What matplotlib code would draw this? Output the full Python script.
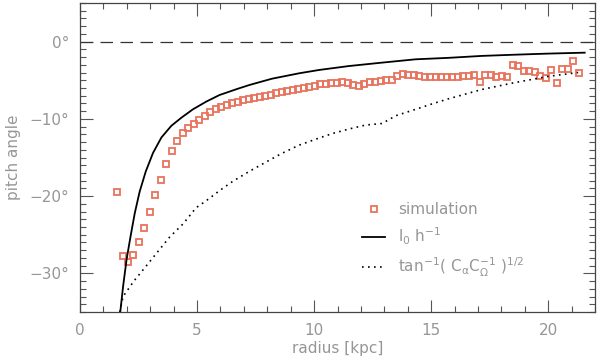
import numpy as np
import matplotlib
matplotlib.use('Agg')
from matplotlib import pyplot as plt
from matplotlib.ticker import MultipleLocator, FixedLocator

# simulation pitch angles
sim_r = [1.57, 1.82, 2.06, 2.28, 2.52, 2.75, 2.99, 3.22, 3.46, 3.69, 3.93, 4.16,
         4.38, 4.62, 4.86, 5.10, 5.33, 5.57, 5.80, 6.04, 6.27, 6.51, 6.74, 6.98,
         7.21, 7.45, 7.68, 7.92, 8.15, 8.39, 8.62, 8.86, 9.09, 9.33, 9.56, 9.80,
         10.03, 10.27, 10.50, 10.74, 10.97, 11.21, 11.44, 11.68, 11.91, 12.15,
         12.38, 12.62, 12.85, 13.09, 13.32, 13.56, 13.79, 14.03, 14.26, 14.50,
         14.73, 14.97, 15.20, 15.44, 15.67, 15.91, 16.14, 16.38, 16.61, 16.85,
         17.08, 17.32, 17.55, 17.79, 18.02, 18.26, 18.49, 18.73, 18.96, 19.20,
         19.43, 19.67, 19.90, 20.14, 20.37, 20.61, 20.84, 21.08, 21.31]
sim_p = [-19.5, -27.7, -28.5, -27.6, -26.0, -24.1, -22.0, -19.9, -17.9, -15.9, -14.1, -12.8,
         -11.8, -11.2, -10.6, -10.1, -9.6, -9.1, -8.75, -8.5, -8.25, -8.0, -7.8, -7.62,
         -7.45, -7.3, -7.15, -7.0, -6.85, -6.7, -6.55, -6.42, -6.3, -6.15, -6.02, -5.85,
         -5.72, -5.55, -5.45, -5.36, -5.32, -5.27, -5.40, -5.58, -5.70, -5.53,
         -5.19, -5.19, -5.14, -4.97, -4.93, -4.41, -4.24, -4.32, -4.37, -4.45,
         -4.58, -4.63, -4.63, -4.58, -4.58, -4.55, -4.53, -4.49, -4.41, -4.28,
         -5.18, -4.32, -4.32, -4.58, -4.49, -4.62, -2.98, -3.20, -3.85, -3.85,
         -3.98, -4.41, -4.75, -3.72, -5.36, -3.59, -3.59, -2.46, -4.07]

# l0/h curve
lh_r = [1.72, 1.84, 1.99, 2.16, 2.34, 2.55, 2.81, 3.12, 3.48, 3.90, 4.33, 4.82,
        5.39, 5.96, 6.74, 7.23, 8.2, 9.36, 10.21, 11.49, 12.8, 14.33, 15.74,
        17.16, 18.5, 20.0, 21.56]
lh_p = [-35.0, -31.7, -28.2, -25.2, -22.2, -19.4, -16.8, -14.4, -12.4, -10.9, -9.85, -8.77,
        -7.77, -6.91, -6.1, -5.62, -4.8, -4.1, -3.67, -3.16, -2.75, -2.29, -2.1,
        -1.85, -1.7, -1.55, -1.43]

# tan^-1 (C_alpha / C_Omega)^1/2 curve
ca_r = [1.70, 1.84, 2.3, 2.84, 3.40, 3.83, 4.40, 4.96, 5.39, 6.0, 6.52, 7.23,
        7.94, 8.6, 9.36, 10.1, 10.78, 11.5, 12.2, 12.9, 13.2, 13.48, 14.3,
        15.0, 15.74, 16.17, 17.16, 18.58, 20.0, 21.28]
ca_p = [-35.0, -33.0, -31.0, -29.0, -26.9, -25.3, -23.6, -21.5, -20.6, -19.2, -18.1, -16.8,
        -15.6, -14.5, -13.4, -12.6, -11.9, -11.3, -10.8, -10.6, -10.1, -9.6, -8.8,
        -8.1, -7.4, -7.04, -6.2, -5.3, -4.5, -4.0]

xticks = [0, 5, 10, 15, 20]
yticks = [-30, -20, -10, 0]
ylabels = ['\u221230\u00b0', '\u221220\u00b0', '\u221210\u00b0', '0\u00b0']

grey = '#969696'
plt.rcParams['font.family'] = ['DejaVu Sans']
plt.rcParams['mathtext.fontset'] = 'dejavusans'

fig = plt.figure(figsize=(6, 3.64), dpi=100)
ax = fig.add_axes([80/600, 1-312/364, 515/600, 309/364])

ax.axhline(0, color='#333333', lw=0.9, dashes=(10, 6))
ax.plot(sim_r, sim_p, ls='none', marker='s', ms=5, mfc='none', mec='#e8735c',
        mew=1.3, label='simulation')
ax.plot(lh_r, lh_p, color='black', lw=1.3, label=r'$\mathregular{l_0\ h^{-1}}$')
ax.plot(ca_r, ca_p, color='black', lw=1.2, ls=(0, (1, 2.6)),
        label=r'$\mathregular{tan^{-1}(\ C_{\alpha}C_{\Omega}^{-1}\ )^{1/2}}$')

ax.set_xlim(0, 22)
ax.set_ylim(-35, 5)
ax.xaxis.set_major_locator(FixedLocator(xticks))
ax.xaxis.set_minor_locator(MultipleLocator(1))
ax.yaxis.set_major_locator(FixedLocator(yticks))
ax.yaxis.set_minor_locator(MultipleLocator(1))
ax.set_yticklabels(ylabels)
ax.tick_params(which='both', direction='in', top=True, right=True,
               colors='#555555', labelcolor=grey, labelsize=11, width=0.8)
ax.tick_params(which='major', length=9, pad=8)
ax.tick_params(which='minor', length=4.5)
for s in ax.spines.values():
    s.set_color('#444444')
    s.set_linewidth(0.9)

ax.set_xlabel('radius [kpc]', color=grey, fontsize=11, labelpad=2)
ax.set_ylabel('pitch angle', color=grey, fontsize=11, labelpad=6)

leg = ax.legend(loc='upper left', bbox_to_anchor=(0.548, 0.355), frameon=False,
                fontsize=11, labelcolor=grey, handlelength=1.5, handletextpad=0.85,
                labelspacing=0.55, markerscale=0.8, borderpad=0, borderaxespad=0)

plt.savefig('out.png', dpi=100)
